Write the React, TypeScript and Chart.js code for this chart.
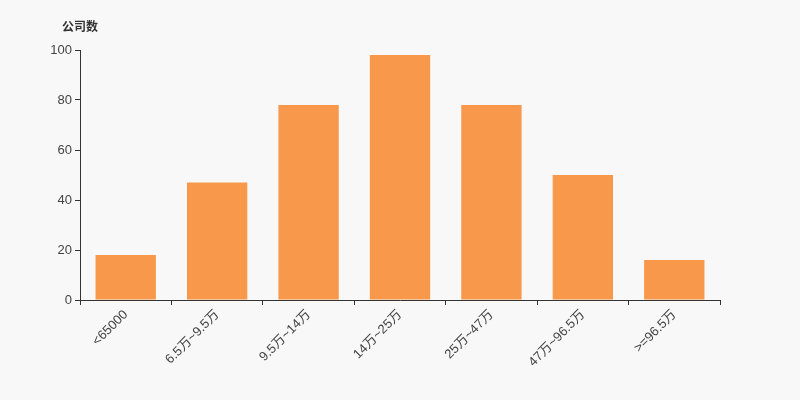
import React, { useEffect, useRef } from "react";
import { Chart, registerables } from "chart.js";

Chart.register(...registerables);

const categories = ["<65000", "6.5万~9.5万", "9.5万~14万", "14万~25万", "25万~47万", "47万~96.5万", ">=96.5万"];
const companyCounts = [18, 47, 78, 98, 78, 50, 16];
const yTicks = [0, 20, 40, 60, 80, 100];
const yAxisTitle = "公司数";

const FONT = "'Liberation Sans', 'Noto Sans CJK SC', sans-serif";

export default function App() {
  const ref = useRef<HTMLCanvasElement | null>(null);

  useEffect(() => {
    if (!ref.current) return;
    const bgPlugin = {
      id: "bg",
      beforeDraw(chart: any) {
        const { ctx, width, height } = chart;
        ctx.save();
        ctx.fillStyle = "#f8f8f8";
        ctx.fillRect(0, 0, width, height);
        ctx.restore();
      },
      afterDraw(chart: any) {
        const { ctx, chartArea } = chart;
        ctx.save();
        ctx.fillStyle = "#333333";
        ctx.font = `bold 12px ${FONT}`;
        ctx.textAlign = "left";
        ctx.textBaseline = "middle";
        ctx.fillText(yAxisTitle, chartArea.left - 18, chartArea.top - 22);
        ctx.restore();
      },
    };
    const chart = new Chart(ref.current, {
      type: "bar",
      data: {
        labels: categories,
        datasets: [
          {
            data: companyCounts,
            backgroundColor: "#f8984a",
            borderWidth: 0,
            barPercentage: 0.66,
            categoryPercentage: 1,
          },
        ],
      },
      options: {
        animation: false,
        responsive: false,
        layout: { padding: { left: 0, top: 50, right: 80, bottom: 0 } },
        plugins: { legend: { display: false }, tooltip: { enabled: false }, title: { display: false } },
        scales: {
          x: {
            offset: true,
            grid: { display: true, drawOnChartArea: false, drawTicks: true, tickLength: 5, color: "#333333", offset: true },
            border: { display: true, color: "#333333", width: 1 },
            ticks: {
              color: "#444444",
              font: { family: FONT, size: 13 },
              minRotation: 45,
              maxRotation: 45,
              autoSkip: false,
              padding: 2,
            },
            afterFit(scale: any) {
              scale.height = 100;
            },
          },
          y: {
            min: 0,
            max: 100,
            afterBuildTicks(scale: any) {
              scale.ticks = yTicks.map((v) => ({ value: v }));
            },
            grid: { display: true, drawOnChartArea: false, drawTicks: true, tickLength: 5, color: "#333333" },
            border: { display: true, color: "#333333", width: 1 },
            ticks: {
              color: "#444444",
              font: { family: FONT, size: 13 },
              padding: 3,
            },
            afterFit(scale: any) {
              scale.width = 80;
            },
          },
        },
      },
      plugins: [bgPlugin],
    });
    return () => chart.destroy();
  }, []);

  return (
    <div style={{ position: "fixed", left: 0, top: 0, width: 800, height: 400, background: "#f8f8f8" }}>
      <canvas ref={ref} width={800} height={400} style={{ width: 800, height: 400, display: "block" }} />
    </div>
  );
}
